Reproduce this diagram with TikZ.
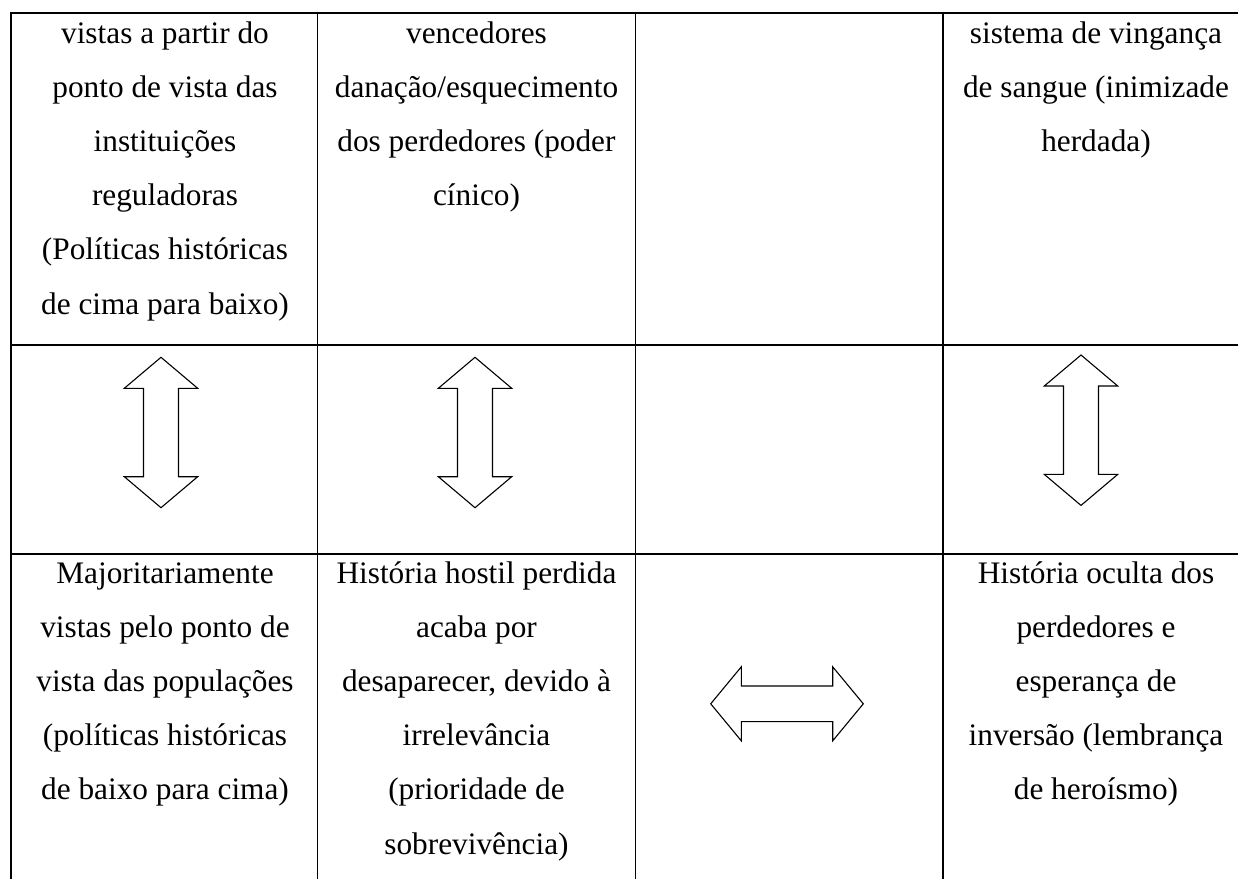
\documentclass[tikz,border=0pt]{standalone}
\usepackage{fontspec}
\setmainfont{Liberation Serif}
\newcommand\celltext[1]{\begin{tabular}[t]{@{}c@{}}#1\end{tabular}}
\begin{document}
\begin{tikzpicture}[x=1pt,y=-1pt,
  gridline/.style={line width=1.8pt, black},
  arrowline/.style={line width=1.1pt, black, line join=miter},
  cell/.style={anchor=base, inner sep=0pt,
    font=\fontsize{31.3}{54.2}\selectfont},
  vdbl/.pic={\draw[arrowline] (0,-75.2) -- (36.7,-44.2) -- (17.5,-44.2) -- (17.5,44.2) -- (36.7,44.2) -- (0,75.2) -- (-36.7,44.2) -- (-17.5,44.2) -- (-17.5,-44.2) -- (-36.7,-44.2) -- cycle;},
  hdbl/.pic={\draw[arrowline] (-76.3,0) -- (-45.7,-37) -- (-45.7,-17.8) -- (45.7,-17.8) -- (45.7,-37) -- (76.3,0) -- (45.7,37) -- (45.7,17.8) -- (-45.7,17.8) -- (-45.7,37) -- cycle;}
]
\useasboundingbox (0,0) rectangle (1238,878);
% table grid
\draw[gridline] (11,12.7) -- (1240,12.7);
\draw[gridline] (11,344.7) -- (1240,344.7);
\draw[gridline] (11,554) -- (1240,554);
\draw[gridline] (11,11.8) -- (11,880);
\draw[gridline] (317.5,11.8) -- (317.5,880);
\draw[gridline] (635.5,11.8) -- (635.5,880);
\draw[gridline] (943,11.8) -- (943,880);
% top row
\node[cell] (t1) at (165,43) {\celltext{vistas a partir do\\ponto de vista das\\instituições\\reguladoras\\(Políticas históricas\\de cima para baixo)}};
\node[cell] (t2) at (476.5,43) {\celltext{vencedores\\danação/esquecimento\\dos perdedores (poder\\cínico)}};
\node[cell] (t4) at (1096,43) {\celltext{sistema de vingança\\de sangue (inimizade\\herdada)}};
% arrows
\pic at (161,432.5) {vdbl};
\pic at (475,432.5) {vdbl};
\pic at (1081,430.2) {vdbl};
\pic at (787,703.8) {hdbl};
% bottom row
\node[cell] (b1) at (165,583) {\celltext{Majoritariamente\\vistas pelo ponto de\\vista das populações\\(políticas históricas\\de baixo para cima)}};
\node[cell] (b2) at (476.5,583) {\celltext{História hostil perdida\\acaba por\\desaparecer, devido à\\irrelevância\\(prioridade de\\sobrevivência)}};
\node[cell] (b4) at (1096,583) {\celltext{História oculta dos\\perdedores e\\esperança de\\inversão (lembrança\\de heroísmo)}};
\end{tikzpicture}
\end{document}
